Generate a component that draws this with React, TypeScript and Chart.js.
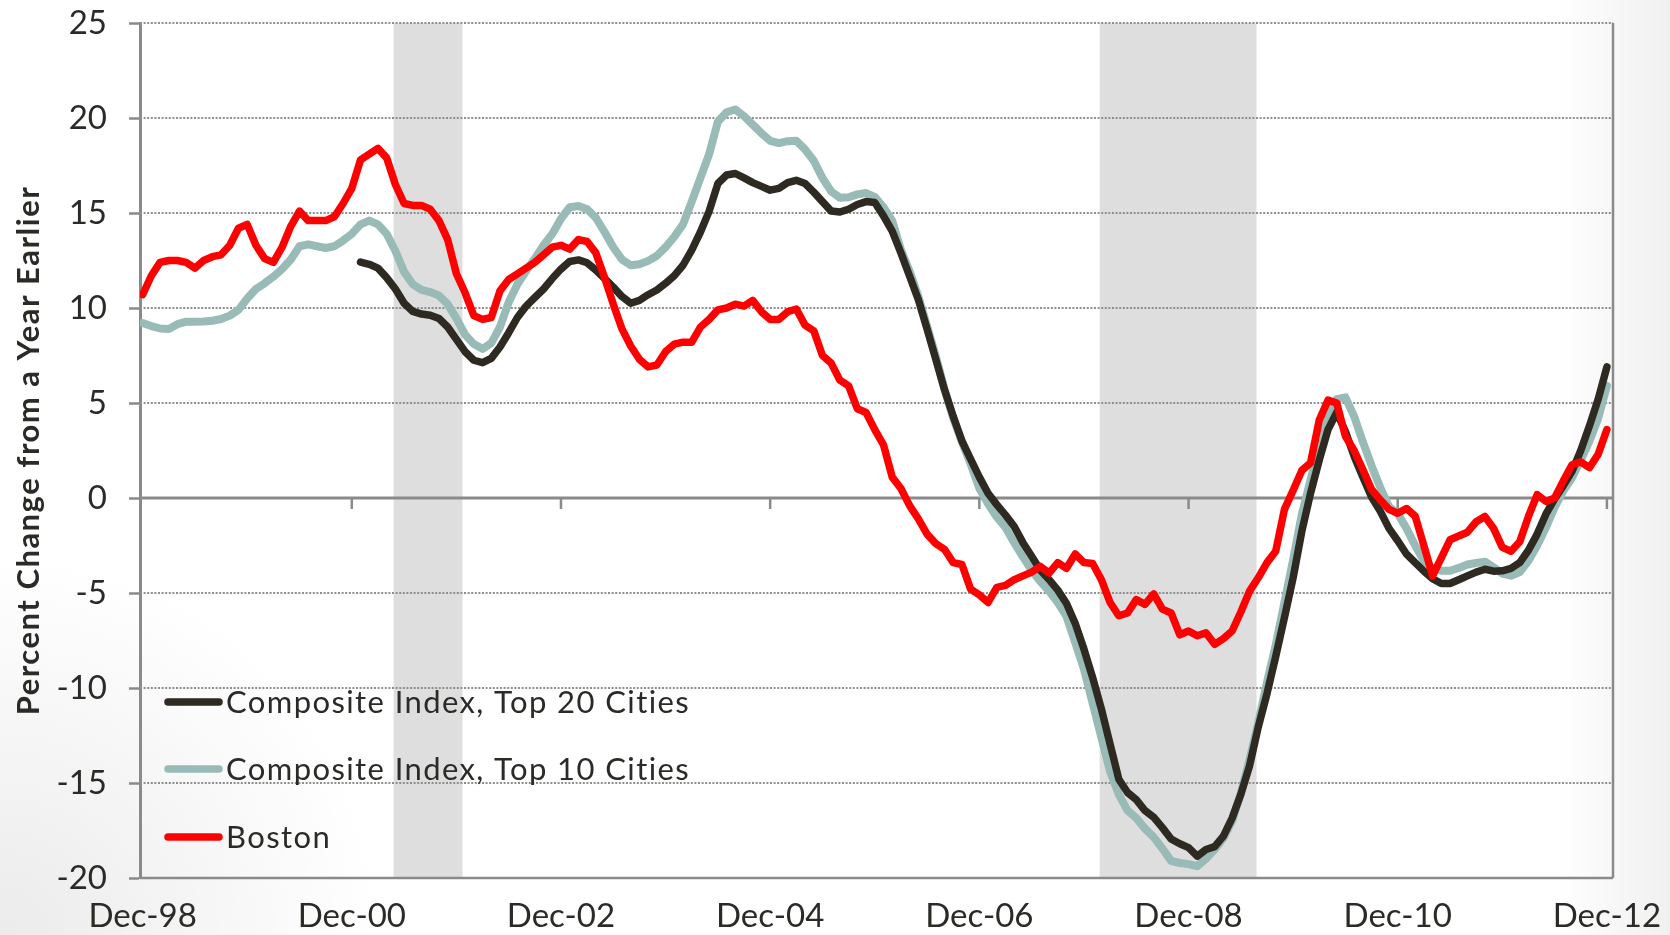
import React, { useEffect, useRef } from "react";
import { Chart, registerables } from "chart.js";

Chart.register(...registerables);

// ---------- data ----------
// month index 0 = Dec-98, monthly through Dec-12 (index 168)
const tickMonths = [0, 24, 48, 72, 96, 120, 144, 168];
const tickLabels = ["Dec-98", "Dec-00", "Dec-02", "Dec-04", "Dec-06", "Dec-08", "Dec-10", "Dec-12"];

// recession shading (month index from Dec-98)
const recessionStarts = [28.8, 109.8];
const recessionEnds = [36.7, 127.8];

const yTitle = "Percent Change from a Year Earlier";
const seriesNames = ["Composite Index, Top 20 Cities", "Composite Index, Top 10 Cities", "Boston"];
const seriesColors = ["#2e2a21", "#99bbb8", "#ff0000"];

const comp20Start = 25; // Jan-01
const comp20 = [
  12.42, 12.3, 12.1, 11.6, 11.0,
  10.25, 9.82, 9.68, 9.62, 9.45, 9.0, 8.35, 7.7, 7.25, 7.12,
  7.35, 7.95, 8.7, 9.5, 10.1, 10.55, 11.0, 11.55, 12.05, 12.45,
  12.53, 12.38, 12.0, 11.55, 11.1, 10.6, 10.25, 10.4, 10.7, 10.95,
  11.3, 11.7, 12.25, 13.05, 14.0, 15.1, 16.55, 17.0, 17.08, 16.85,
  16.6, 16.4, 16.2, 16.3, 16.6, 16.72, 16.55, 16.1, 15.6, 15.1,
  15.05, 15.2, 15.45, 15.6, 15.55, 14.85, 14.05, 12.9, 11.67, 10.44,
  8.9, 7.3, 5.7, 4.3, 3.0, 2.05, 1.1, 0.25, -0.35, -0.9,
  -1.5, -2.35, -3.07, -3.8, -4.3, -4.85, -5.55, -6.6, -7.95, -9.45,
  -11.1, -12.95, -14.8, -15.5, -15.88, -16.45, -16.8, -17.35, -17.95, -18.2,
  -18.4, -18.85, -18.5, -18.35, -17.8, -16.85, -15.6, -14.1, -12.05, -10.3,
  -8.35, -6.3, -4.2, -1.75, 0.25, 2.0, 3.6, 4.5, 3.5, 2.2,
  1.1, 0.05, -0.7, -1.6, -2.25, -2.95, -3.4, -3.85, -4.25, -4.5,
  -4.5, -4.3, -4.1, -3.9, -3.75, -3.85, -3.83, -3.7, -3.4, -2.75,
  -1.9, -0.85, -0.05, 0.65, 1.4, 2.5, 3.8, 5.2, 6.9,
];

const comp10 = [
  9.21, 9.05, 8.92, 8.9, 9.15, 9.28, 9.27, 9.29, 9.33, 9.42,
  9.6, 9.9, 10.5, 11.0, 11.3, 11.65, 12.05, 12.55, 13.25, 13.35,
  13.25, 13.16, 13.25, 13.55, 13.9, 14.4, 14.6, 14.4, 13.9, 13.0,
  11.9, 11.25, 10.95, 10.84, 10.65, 10.2, 9.45, 8.6, 8.1, 7.85,
  8.15, 9.0, 10.3, 11.25, 11.95, 12.6, 13.3, 13.9, 14.7, 15.3,
  15.37, 15.2, 14.75, 14.0, 13.2, 12.55, 12.25, 12.3, 12.48, 12.75,
  13.2, 13.75, 14.4, 15.6, 16.85, 18.1, 19.8, 20.3, 20.45, 20.1,
  19.65, 19.2, 18.8, 18.68, 18.78, 18.8, 18.35, 17.75, 16.85, 16.14,
  15.8, 15.83, 15.98, 16.05, 15.85, 15.3, 14.6, 13.07, 11.93, 10.61,
  9.05, 7.47, 5.73, 4.2, 2.95, 1.8, 0.5, -0.3, -1.0, -1.55,
  -2.35, -3.1, -3.8, -4.4, -4.9, -5.5, -6.23, -7.6, -9.0, -10.8,
  -12.6, -14.4, -15.6, -16.45, -16.84, -17.4, -17.85, -18.45, -19.1, -19.21,
  -19.27, -19.38, -18.98, -18.5, -17.9, -17.0, -15.53, -13.77, -11.84, -9.7,
  -7.75, -5.5, -3.25, -0.85, 0.95, 2.72, 4.2, 5.2, 5.3, 4.3,
  2.95, 1.7, 0.55, -0.45, -0.82, -1.6, -2.5, -3.3, -3.7, -3.83,
  -3.83, -3.68, -3.5, -3.42, -3.35, -3.65, -3.98, -4.09, -3.9, -3.3,
  -2.5, -1.55, -0.5, 0.38, 1.07, 2.0, 3.0, 4.2, 5.9,
];

const boston = [
  10.7, 11.7, 12.4, 12.5, 12.5, 12.4, 12.1, 12.5, 12.7, 12.8,
  13.3, 14.2, 14.4, 13.3, 12.6, 12.4, 13.2, 14.3, 15.1, 14.6,
  14.6, 14.6, 14.8, 15.5, 16.3, 17.8, 18.1, 18.4, 17.9, 16.5,
  15.5, 15.4, 15.4, 15.2, 14.6, 13.6, 11.8, 10.8, 9.6, 9.4,
  9.5, 10.9, 11.5, 11.8, 12.1, 12.4, 12.8, 13.2, 13.3, 13.1,
  13.6, 13.5, 12.9, 11.6, 10.2, 8.9, 8.0, 7.3, 6.9, 7.0,
  7.7, 8.1, 8.2, 8.2, 9.0, 9.4, 9.9, 10.0, 10.2, 10.1,
  10.4, 9.8, 9.4, 9.4, 9.8, 9.95, 9.1, 8.8, 7.5, 7.1,
  6.2, 5.9, 4.7, 4.5, 3.6, 2.8, 1.1, 0.5, -0.4, -1.1,
  -1.9, -2.4, -2.7, -3.4, -3.5, -4.8, -5.1, -5.5, -4.7, -4.6,
  -4.3, -4.1, -3.9, -3.6, -3.95, -3.4, -3.7, -2.95, -3.4, -3.45,
  -4.3, -5.5, -6.2, -6.05, -5.35, -5.6, -5.05, -5.85, -6.05, -7.2,
  -7.0, -7.25, -7.1, -7.7, -7.4, -7.0, -6.0, -4.9, -4.2, -3.4,
  -2.8, -0.6, 0.4, 1.45, 1.85, 4.1, 5.15, 5.0, 3.25, 2.5,
  1.5, 0.45, -0.1, -0.6, -0.8, -0.55, -0.95, -2.5, -4.1, -3.15,
  -2.2, -2.0, -1.8, -1.25, -0.97, -1.6, -2.6, -2.8, -2.3, -0.97,
  0.18, -0.18, 0.0, 0.9, 1.75, 1.9, 1.6, 2.3, 3.6,
];

// ---------- styling ----------
const FONT = "Lato, 'Open Sans', sans-serif";
const TEXT = "#2b2a26";
const AXIS = "#8a8a8a";

const toPoints = (vals: number[], start = 0) => vals.map((y, k) => ({ x: start + k, y }));

const backdrop = {
  id: "backdrop",
  beforeDatasetsDraw(chart: any) {
    const { ctx, chartArea: a, scales } = chart;
    const x = scales.x, y = scales.y;
    ctx.save();
    ctx.fillStyle = "#dedede";
    recessionStarts.forEach((s, k) => {
      const x0 = x.getPixelForValue(s);
      const x1 = x.getPixelForValue(recessionEnds[k]);
      ctx.fillRect(x0, a.top, x1 - x0, a.bottom - a.top);
    });
    ctx.strokeStyle = "#8e8e8e";
    ctx.lineWidth = 2;
    ctx.setLineDash([2, 1.6]);
    y.ticks.forEach((t: any) => {
      if (t.value === 0 || t.value === y.min) return;
      const py = y.getPixelForValue(t.value);
      ctx.beginPath();
      ctx.moveTo(a.left, py);
      ctx.lineTo(a.right, py);
      ctx.stroke();
    });
    ctx.setLineDash([]);
    ctx.strokeStyle = AXIS;
    ctx.lineWidth = 2.5;
    const pb = y.getPixelForValue(y.min);
    ctx.beginPath();
    ctx.moveTo(a.left, pb);
    ctx.lineTo(a.right, pb);
    ctx.stroke();
    ctx.beginPath();
    ctx.moveTo(a.right, a.top);
    ctx.lineTo(a.right, a.bottom);
    ctx.stroke();
    const y0 = y.getPixelForValue(0);
    ctx.lineWidth = 3;
    ctx.beginPath();
    ctx.moveTo(a.left, y0);
    ctx.lineTo(a.right, y0);
    ctx.stroke();
    ctx.lineWidth = 2.5;
    tickMonths.forEach((m) => {
      if (m === 0) return;
      const px = x.getPixelForValue(m);
      ctx.beginPath();
      ctx.moveTo(px, y0);
      ctx.lineTo(px, y0 + 11);
      ctx.stroke();
    });
    ctx.restore();
  },
};

const textPlugin = {
  id: "texts",
  afterDatasetsDraw(chart: any) {
    const { ctx, chartArea: a } = chart;
    ctx.save();
    const rows = [702, 769, 837];
    const size = 31;
    ctx.font = `${size}px ${FONT}`;
    try { (ctx as any).letterSpacing = "1.4px"; } catch (e) {}
    ctx.textAlign = "left";
    ctx.textBaseline = "alphabetic";
    seriesNames.forEach((name, k) => {
      const yy = rows[k];
      ctx.strokeStyle = seriesColors[k];
      ctx.lineWidth = 7.5;
      ctx.lineCap = "round";
      ctx.beginPath();
      ctx.moveTo(168, yy);
      ctx.lineTo(219, yy);
      ctx.stroke();
      ctx.fillStyle = TEXT;
      ctx.fillText(name, 226, yy + (size * 0.717) / 2);
    });
    ctx.font = `bold 31px ${FONT}`;
    try { (ctx as any).letterSpacing = "1.5px"; } catch (e) {}
    ctx.translate(29, (a.top + a.bottom) / 2);
    ctx.rotate(-Math.PI / 2);
    ctx.textAlign = "center";
    ctx.textBaseline = "middle";
    ctx.fillText(yTitle, 0, 0);
    ctx.restore();
  },
};

export default function App() {
  const ref = useRef<HTMLCanvasElement | null>(null);
  useEffect(() => {
    if (!ref.current) return;
    const common = {
      pointRadius: 0,
      tension: 0,
      fill: false,
      borderJoinStyle: "round" as const,
      borderCapStyle: "round" as const,
    };
    const chart = new Chart(ref.current, {
      type: "line",
      data: {
        datasets: [
          { ...common, label: seriesNames[0], data: toPoints(comp20, comp20Start), borderColor: seriesColors[0], borderWidth: 7.5, order: 1 },
          { ...common, label: seriesNames[1], data: toPoints(comp10), borderColor: seriesColors[1], borderWidth: 8, order: 2 },
          { ...common, label: seriesNames[2], data: toPoints(boston), borderColor: seriesColors[2], borderWidth: 7.5, order: 0 },
        ],
      },
      options: {
        animation: false,
        responsive: true,
        maintainAspectRatio: false,
        layout: { padding: { top: 23, right: 57, left: 0, bottom: 0 } },
        plugins: { legend: { display: false }, tooltip: { enabled: false } },
        scales: {
          x: {
            type: "linear",
            min: -0.3,
            max: 168.7,
            afterBuildTicks: (s: any) => {
              s.ticks = tickMonths.map((v) => ({ value: v }));
            },
            afterFit: (s: any) => {
              s.height = 57;
              s.paddingLeft = 0;
              s.paddingRight = 0;
            },
            ticks: {
              autoSkip: false,
              maxRotation: 0,
              minRotation: 0,
              padding: 19,
              color: TEXT,
              font: { family: FONT, size: 33 },
              callback: (v: any) => {
                const k = tickMonths.indexOf(Number(v));
                return k >= 0 ? tickLabels[k] : "";
              },
            },
            grid: { display: false, drawTicks: false },
            border: { display: false },
          },
          y: {
            min: -20,
            max: 25,
            afterFit: (s: any) => {
              s.width = 140;
              s.paddingTop = 0;
              s.paddingBottom = 0;
            },
            ticks: { stepSize: 5, padding: 22, color: TEXT, font: { family: FONT, size: 33 } },
            grid: { display: true, drawOnChartArea: false, drawTicks: true, tickLength: 11, tickWidth: 2.5, tickColor: AXIS, color: AXIS },
            border: { display: true, color: AXIS, width: 3 },
          },
        },
      },
      plugins: [backdrop, textPlugin],
    });
    return () => chart.destroy();
  }, []);

  return (
    <div
      style={{
        position: "absolute",
        left: 0,
        top: 0,
        width: 1670,
        height: 935,
        background:
          "linear-gradient(to right, rgba(0,0,0,0) 93%, rgba(0,0,0,0.06) 100%), radial-gradient(circle at 0% 100%, rgba(0,0,0,0.08) 0%, rgba(0,0,0,0) 20%), #ffffff",
      }}
    >
      <canvas ref={ref} />
    </div>
  );
}
